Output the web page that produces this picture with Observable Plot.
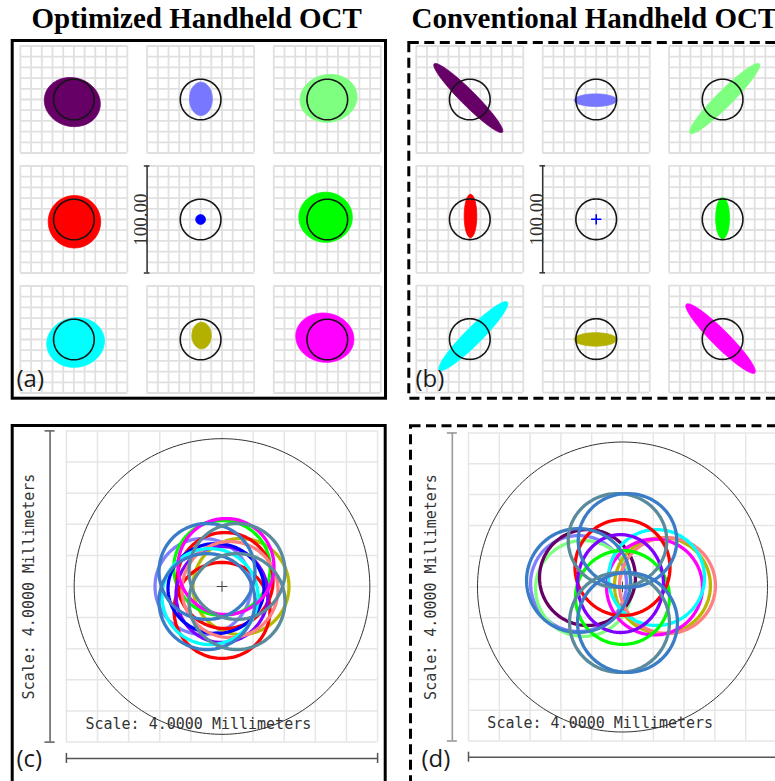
<!DOCTYPE html>
<html><head><meta charset="utf-8">
<script src="https://cdn.jsdelivr.net/npm/d3@7"></script>
<script src="https://cdn.jsdelivr.net/npm/@observablehq/plot@0.6"></script>
<style>
html,body{margin:0;padding:0;background:#fff;}
#fig{position:relative;width:775px;height:781px;overflow:hidden;background:#fff;}
.title{position:absolute;font-family:"Liberation Serif","Times New Roman",serif;font-weight:bold;font-size:29px;line-height:29px;white-space:nowrap;color:#000;}
.panel{position:absolute;}
</style></head><body><div id="fig"></div>
<script>
// ================= DATA =================
const titles = ["Optimized Handheld OCT", "Conventional Handheld OCT"];
const panelLetters = ["(a)", "(b)", "(c)", "(d)"];

// Spot diagrams: 3x3 field grid (row, column) and field colours
const fieldColors = ["#660066", "#7878ff", "#7fff7f", "#ff0000", "#0000ff", "#00ff00", "#00ffff", "#b3b000", "#ff00ff"];
const fieldRow = [0, 0, 0, 1, 1, 1, 2, 2, 2];
const fieldCol = [0, 1, 2, 0, 1, 2, 0, 1, 2];
const airyRadiusUm = 19;
const cellGridUm = [-50, -40, -30, -20, -10, 0, 10, 20, 30, 40, 50];
const spotScaleUm = 100;
const spotScaleLabel = "100.00";

// Optimized spots: centroid (µm), semi-axes (µm), tilt (deg)
const optCx = [-1.5, 0.3, 1.2, 0.5, 0, -1.6, 1.6, 0.9, -2.3];
const optCy = [-2.4, 0.6, 1.1, -2.1, 0, 2.1, -2.8, 3.7, 1.7];
const optRx = [26.4, 10.7, 26.8, 24.5, 4.6, 25.0, 27.1, 9.1, 27.3];
const optRy = [22.7, 15.6, 22.2, 24.5, 4.6, 23.4, 23.1, 12.4, 22.9];
const optTilt = [-15, 0, 10, 0, 0, 0, 10, 0, -10];

// Conventional spots (rx = 0 : point-like, drawn as a cross)
const convCx = [-1.4, -0.65, 1.9, 0.65, 0, 0, 3.3, -0.65, -1.9];
const convCy = [1.4, -0.65, 0.9, 3.1, 0, 1.1, 2.8, -0.3, 0.5];
const convRx = [45.1, 19.9, 45.8, 5.9, 0, 6.5, 44.9, 19.9, 45.3];
const convRy = [7.0, 5.9, 7.5, 20.3, 0, 19.2, 7.9, 6.3, 7.9];
const convTilt = [-45, 0, 45, 0, 0, 0, 45, 0, -45];

// Footprint diagrams (mm)
const footGridMm = [-2, -1.6, -1.2, -0.8, -0.4, 0, 0.4, 0.8, 1.2, 1.6, 2];
const footScaleMm = 4;
const footScaleLabel = "Scale: 4.0000 Millimeters";
const optApertureMm = 1.90;
const convApertureMm = 1.883;

const optRingColor = ["#7f7fff", "#b8b800", "#00ff00", "#ff0000", "#ff0000", "#8000ff", "#0000ff", "#ff8080", "#00ffff", "#ff00ff", "#3a7cc6", "#5a8b9c", "#3a7cc6", "#5a8b9c"];
const optRingCx = [-0.244, 0.244, 0, 0, 0.039, 0, -0.077, 0.103, -0.154, 0.051, -0.193, 0.193, -0.193, 0.193];
const optRingCy = [0, 0, 0.238, -0.308, 0.077, -0.103, -0.026, -0.039, -0.129, 0.257, 0.193, 0.193, -0.193, -0.193];
const optRingRx = [0.617, 0.617, 0.62, 0.617, 0.617, 0.591, 0.617, 0.617, 0.617, 0.617, 0.617, 0.617, 0.617, 0.617];
const optRingRy = [0.617, 0.617, 0.61, 0.617, 0.617, 0.617, 0.578, 0.617, 0.617, 0.617, 0.617, 0.617, 0.617, 0.617];

const convRingColor = ["#7f7fff", "#7fff7f", "#660066", "#b8b800", "#ff8080", "#ff00ff", "#00ffff", "#00ff00", "#ff0000", "#8000ff", "#3a7cc6", "#5a8b9c", "#3a7cc6", "#5a8b9c", "#3a7cc6"];
const convRingCx = [-0.571, -0.506, -0.455, 0.519, 0.584, 0.416, 0.442, 0, 0, -0.026, -0.571, -0.065, 0.065, -0.039, 0.065];
const convRingCy = [0.045, -0.019, 0.123, 0.019, 0.019, 0, 0.123, -0.136, 0.253, 0.045, 0.084, 0.604, 0.604, -0.461, -0.461];
const convRingRx = [0.623, 0.623, 0.623, 0.623, 0.623, 0.623, 0.623, 0.61, 0.617, 0.558, 0.675, 0.64, 0.64, 0.649, 0.649];
const convRingRy = [0.623, 0.623, 0.623, 0.623, 0.623, 0.623, 0.623, 0.61, 0.623, 0.636, 0.675, 0.61, 0.61, 0.649, 0.649];

// ================= HELPERS =================
function ellipsePts(cx, cy, rx, ry, tiltDeg = 0, n = 90) {
  const t = tiltDeg * Math.PI / 180, c = Math.cos(t), s = Math.sin(t);
  return d3.range(n).map(i => {
    const a = 2 * Math.PI * i / n, ex = rx * Math.cos(a), ey = ry * Math.sin(a);
    return {x: cx + ex * c - ey * s, y: cy + ex * s + ey * c};
  });
}
function scaleX(svgLeft, w, originAbs, k) {
  const o = originAbs - svgLeft;
  return {domain: [-o / k, (w - o) / k], range: [0, w], axis: null};
}
function scaleY(svgTop, h, originAbs, k) {
  const o = originAbs - svgTop;
  return {domain: [-(h - o) / k, o / k], range: [h, 0], axis: null};
}
const fig = document.getElementById("fig");
function place(svg, left, top) {
  svg.classList.add("panel");
  svg.style.left = left + "px";
  svg.style.top = top + "px";
  fig.appendChild(svg);
}
function letterMark(letter, dx, dy) {
  return Plot.text([letter], {frameAnchor: "top-left", text: d => d, dx, dy, textAnchor: "start", lineAnchor: "bottom",
    fontSize: 24, fontFamily: "Open Sans, Liberation Sans, sans-serif", fill: "#1a1a1a"});
}

// ================= SPOT PANELS =================
function spotPanel(o) {
  const colX = c => c * o.pitchX / o.k, rowY = r => -r * o.pitchY / o.k;
  const g0 = cellGridUm[0], g1 = cellGridUm[cellGridUm.length - 1];
  const cells = fieldRow.map((r, i) => ({X: colX(fieldCol[i]), Y: rowY(r)}));
  const vl = cells.flatMap(cl => cellGridUm.map(t => ({x: cl.X + t, y1: cl.Y + g0, y2: cl.Y + g1})));
  const hl = cells.flatMap(cl => cellGridUm.map(t => ({y: cl.Y + t, x1: cl.X + g0, x2: cl.X + g1})));
  const marks = [
    Plot.ruleX(vl, {x: "x", y1: "y1", y2: "y2", stroke: "#e0e0e0", strokeWidth: 1.8}),
    Plot.ruleY(hl, {y: "y", x1: "x1", x2: "x2", stroke: "#e0e0e0", strokeWidth: 1.8})
  ];
  cells.forEach((cl, i) => {
    if (o.rx[i] > 0) {
      marks.push(Plot.line(ellipsePts(cl.X + o.cx[i], cl.Y + o.cy[i], o.rx[i], o.ry[i], o.tilt[i]),
        {x: "x", y: "y", fill: fieldColors[i], stroke: fieldColors[i], strokeWidth: 0.8, curve: "linear-closed"}));
    } else {
      marks.push(Plot.dot([{x: cl.X + o.cx[i], y: cl.Y + o.cy[i]}], {x: "x", y: "y", symbol: "plus", r: 3.4, stroke: fieldColors[i], strokeWidth: 1.6}));
    }
    marks.push(Plot.line(ellipsePts(cl.X, cl.Y, airyRadiusUm, airyRadiusUm), {x: "x", y: "y", stroke: "#151515", strokeWidth: 1.6, curve: "linear-closed"}));
  });
  // scale bar at left edge of the centre cell
  const bx = colX(1) - spotScaleUm / 2, by = rowY(1);
  marks.push(
    Plot.ruleX([{x: bx, y1: by - spotScaleUm / 2, y2: by + spotScaleUm / 2}], {x: "x", y1: "y1", y2: "y2", stroke: "#333", strokeWidth: 1.5}),
    Plot.ruleY([by - spotScaleUm / 2, by + spotScaleUm / 2], {y: d => d, x1: bx - 2.6, x2: bx + 2.6, stroke: "#333", strokeWidth: 1.5}),
    Plot.text([spotScaleLabel], {x: bx - 5.4, y: by, text: d => d, rotate: -90, fontSize: 19, fontFamily: "Liberation Serif, serif", fill: "#333", lineAnchor: "middle"}),
    letterMark(o.letter, o.letterDx, o.letterDy),
    Plot.frame({stroke: "#000", strokeWidth: 3, strokeDasharray: o.dash, insetLeft: o.inset[0], insetTop: o.inset[1], insetRight: o.inset[2], insetBottom: o.inset[3]})
  );
  return Plot.plot({
    width: o.w, height: o.h, margin: 0,
    x: scaleX(o.left, o.w, o.originX, o.k),
    y: scaleY(o.top, o.h, o.originY, o.k),
    style: {background: "transparent", overflow: "visible"},
    marks
  });
}

// ================= FOOTPRINT PANELS =================
function footPanel(o) {
  const g0 = footGridMm[0], g1 = footGridMm[footGridMm.length - 1];
  const half = footScaleMm / 2, bar = half + 0.21, tick = 0.065;
  const marks = [
    Plot.ruleX(footGridMm, {x: d => d, y1: g0, y2: g1, stroke: "#e6e6e6", strokeWidth: 1.5}),
    Plot.ruleY(footGridMm, {y: d => d, x1: g0, x2: g1, stroke: "#e6e6e6", strokeWidth: 1.5}),
    Plot.line(ellipsePts(0, 0, o.aperture, o.aperture, 0, 240), {x: "x", y: "y", stroke: "#333", strokeWidth: 1, curve: "linear-closed"}),
    Plot.dot([{x: 0, y: 0}], {x: "x", y: "y", symbol: "plus", r: 3.5, stroke: "#444", strokeWidth: 1})
  ];
  o.color.forEach((c, i) => {
    marks.push(Plot.line(ellipsePts(o.cx[i], o.cy[i], o.rx[i], o.ry[i]), {x: "x", y: "y", stroke: c, strokeWidth: 3.3, curve: "linear-closed"}));
  });
  marks.push(
    Plot.ruleX([-bar], {x: d => d, y1: -half, y2: half, stroke: o.vbarColor, strokeWidth: 1.6}),
    Plot.ruleY([-half, half], {y: d => d, x1: -bar - tick, x2: -bar + tick, stroke: o.vbarColor, strokeWidth: 1.6}),
    Plot.ruleY([-bar], {y: d => d, x1: -half, x2: half, stroke: "#555", strokeWidth: 1.5}),
    Plot.ruleX([-half, half], {x: d => d, y1: -bar - tick, y2: -bar + tick, stroke: "#555", strokeWidth: 1.5}),
    Plot.text([footScaleLabel], {x: -half - 0.48, y: 0, text: d => d, rotate: -90, lineAnchor: "middle", fontSize: 15, fontFamily: "DejaVu Sans Mono, monospace", fill: "#333"}),
    Plot.text([footScaleLabel], {x: -half + 0.245, y: -half + 0.17, text: d => d, textAnchor: "start", lineAnchor: "bottom", fontSize: 15, fontFamily: "DejaVu Sans Mono, monospace", fill: "#333"}),
    letterMark(o.letter, o.letterDx, o.letterDy),
    Plot.frame({stroke: "#000", strokeWidth: 3, strokeDasharray: o.dash, insetLeft: o.inset[0], insetTop: o.inset[1], insetRight: o.inset[2], insetBottom: o.inset[3]})
  );
  return Plot.plot({
    width: o.w, height: o.h, margin: 0,
    x: scaleX(o.left, o.w, o.originX, o.k),
    y: scaleY(o.top, o.h, o.originY, o.k),
    style: {background: "transparent", overflow: "visible"},
    marks
  });
}

// ================= LAYOUT =================
titles.forEach((t, i) => {
  const d = document.createElement("div");
  d.className = "title";
  d.textContent = t;
  d.style.left = (i === 0 ? 31.5 : 411.5) + "px";
  d.style.top = "4px";
  fig.appendChild(d);
});

place(spotPanel({left: 0, top: 30, w: 392, h: 375, originX: 73.4, originY: 99, pitchX: 126.7, pitchY: 120, k: 1.07,
  cx: optCx, cy: optCy, rx: optRx, ry: optRy, tilt: optTilt, dash: null, inset: [11.7, 10, 7, 7.3],
  letter: panelLetters[0], letterDx: 16, letterDy: 356}), 0, 30);

place(spotPanel({left: 392, top: 30, w: 400, h: 375, originX: 469.3, originY: 99, pitchX: 126.4, pitchY: 119.8, k: 1.07,
  cx: convCx, cy: convCy, rx: convRx, ry: convRy, tilt: convTilt, dash: "10,5.5", inset: [16.3, 12, 6, 7.3],
  letter: panelLetters[1], letterDx: 23, letterDy: 356}), 392, 30);

place(footPanel({left: 0, top: 405, w: 392, h: 390, originX: 221.5, originY: 586, k: 77.8, aperture: optApertureMm,
  color: optRingColor, cx: optRingCx, cy: optRingCy, rx: optRingRx, ry: optRingRy, vbarColor: "#666",
  dash: null, inset: [11.7, 20, 7.3, 8], letter: panelLetters[2], letterDx: 16, letterDy: 361}), 0, 405);

place(footPanel({left: 392, top: 405, w: 400, h: 390, originX: 622, originY: 586.5, k: 77, aperture: convApertureMm,
  color: convRingColor, cx: convRingCx, cy: convRingCy, rx: convRingRx, ry: convRingRy, vbarColor: "#999",
  dash: "10,5.5", inset: [18, 20.3, 6, 8], letter: panelLetters[3], letterDx: 29, letterDy: 361}), 392, 405);
</script></body></html>
